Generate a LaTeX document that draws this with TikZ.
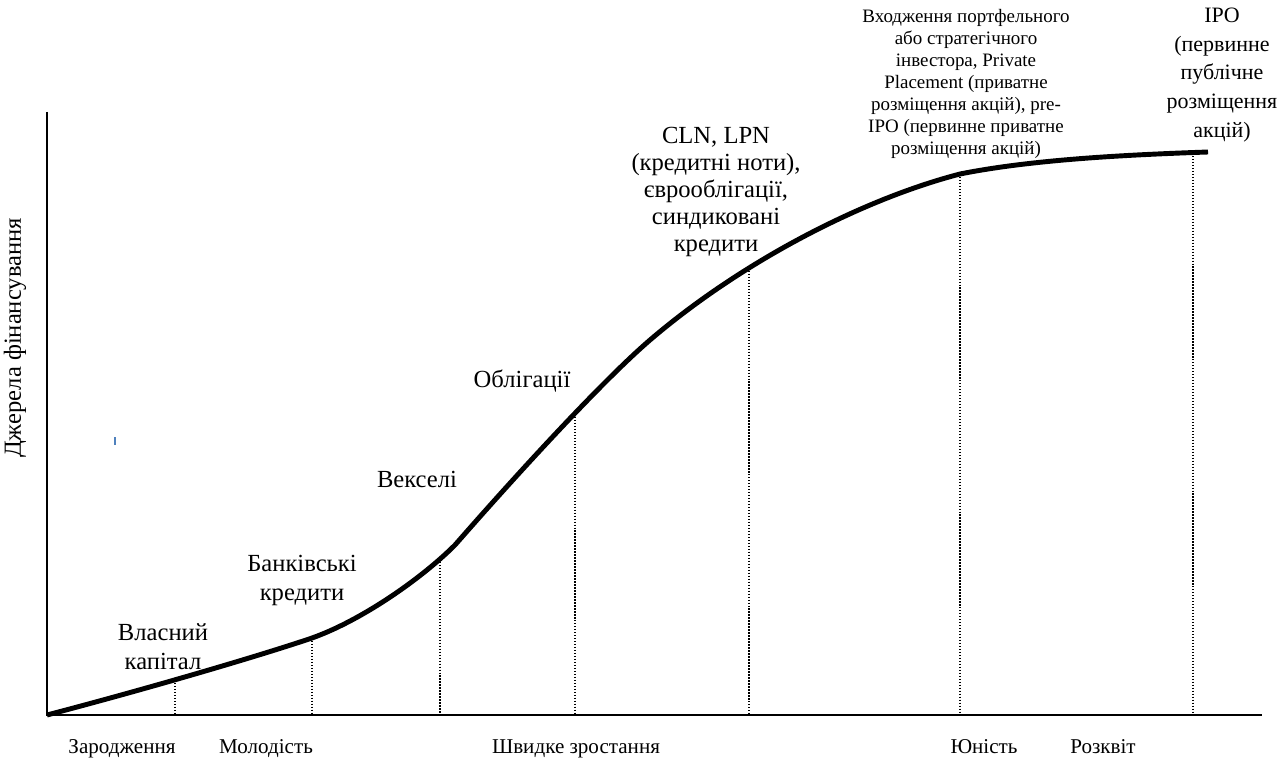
\documentclass[tikz,border=0pt]{standalone}
\usepackage{fontspec}
\setmainfont{Liberation Serif}
\usetikzlibrary{positioning}
\definecolor{markblue}{RGB}{79,129,189}

\begin{document}
\begin{tikzpicture}[x=0.02cm, y=-0.02cm,
    source/.style={align=center, inner sep=0pt, font=\fontsize{14}{16.5}\selectfont},
    stage/.style={anchor=base, inner sep=0pt, font=\fontsize{12}{14}\selectfont},
    guide/.style={line width=0.8pt, dash pattern=on 0.8pt off 0.9pt},
    axis/.style={line width=1pt},
    curve/.style={line width=2.8pt, line join=round}]
        \useasboundingbox (0,0) rectangle (1277,763);

        % Axes
        \coordinate (o) at (47,715);
        \coordinate (ytop) at (47,112);
        \coordinate (xend) at (1262,715);
        \draw[axis] (ytop) -- (o) -- (xend);
        \node[rotate=90, inner sep=0pt, font=\fontsize{14}{16}\selectfont] (ylabel) at (15,338) {Джерела фінансування};

        % Growth curve
        \draw[curve] (o) .. controls (150,688) and (262,655) .. (312,638)
            .. controls (360,621) and (420,580) .. (455,545)
            .. controls (510,482) and (600,383) .. (650,340)
            .. controls (740,263) and (860,200) .. (960,174)
            .. controls (1030,160) and (1120,155) .. (1208,152);

        % Points on the curve
        \coordinate (p1) at (175,680);
        \coordinate (p2) at (312,638);
        \coordinate (p3) at (440,559);
        \coordinate (p4) at (575,414);
        \coordinate (p5) at (749,268);
        \coordinate (p6) at (960,174);
        \coordinate (p7) at (1193,153);
        \foreach \p in {p1,p2,p3,p4,p5,p6,p7}
            \draw[guide] (\p) -- (\p |- o);

        % Sources of financing
        \node[source] (own) at (163,647) {Власний\\капітал};
        \node[source] (bank) at (302,580) {Банківські\\кредити};
        \node[source] (bills) at (417,479) {Векселі};
        \node[source] (bonds) at (522,381) {Облігації};
        \node[source, font=\fontsize{14}{15.4}\selectfont] (notes) at (716,192) {CLN, LPN\\(кредитні ноти),\\єврооблігації,\\синдиковані\\кредити};
        \node[source, font=\fontsize{10.8}{12.6}\selectfont] (investor) at (966,84) {Входження портфельного\\або стратегічного\\інвестора, Private\\Placement (приватне\\розміщення акцій), pre-\\IPO (первинне приватне\\розміщення акцій)};
        \node[source, font=\fontsize{12.5}{16.4}\selectfont] (ipo) at (1222,75) {IPO\\(первинне\\публічне\\розміщення\\акцій)};

        % Stages
        \node[stage] (birth) at (122,753) {Зародження};
        \node[stage] (youth) at (266,753) {Молодість};
        \node[stage] (growth) at (576,753) {Швидке зростання};
        \node[stage] (maturity) at (984,753) {Юність};
        \node[stage] (bloom) at (1103,753) {Розквіт};

        % Stray mark
        \draw[markblue, line width=0.8pt] (115,437) -- (115,445);
    \end{tikzpicture}
\end{document}
